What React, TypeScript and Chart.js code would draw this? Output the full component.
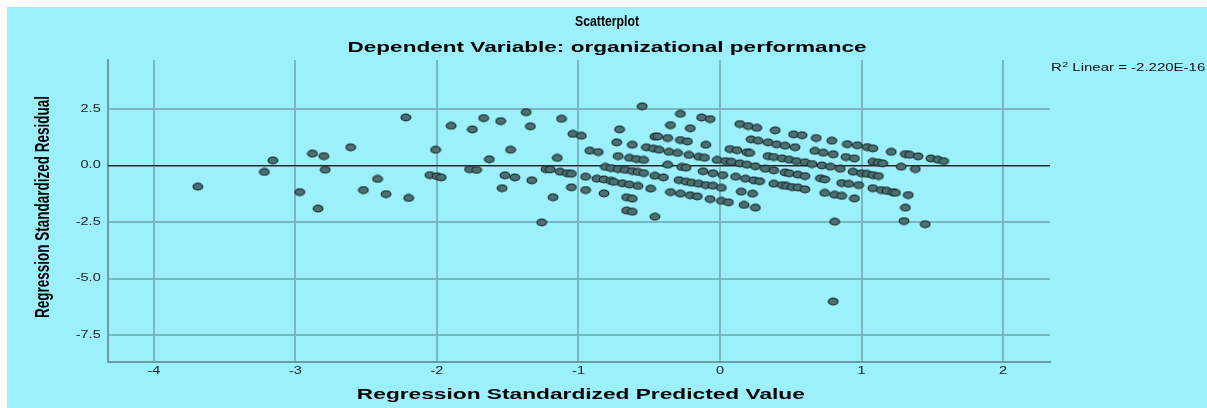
import React, { useEffect, useRef } from "react";
import { Chart, registerables } from "chart.js";
Chart.register(...registerables);

const predicted = [
  -3.69, -3.22, -3.16, -2.97, -2.88, -2.80, -2.79, -2.84, -2.61, -2.52, -2.42, -2.36, -2.22, -2.20, -2.01, -2.05, -2.00, -1.97, -1.90,
  -1.67, -1.75, -1.55, -1.37, -1.34, -1.12, -1.04, -0.98, -1.48, -1.63, -1.77, -1.72, -1.52, -1.45, -1.33, -1.54, -1.26, -1.15, -1.23, -1.20,
  -1.13, -1.08, -1.05, -1.18, -1.05, -0.95, -0.95, -0.82, -0.92, -0.86, -0.87, -0.82, -0.77, -0.71, -0.73, -0.62, -0.52, -0.47, -0.72, -0.64, -0.59, -0.54,
  -0.81, -0.77, -0.72, -0.67, -0.62, -0.58, -0.54,
  -0.69, -0.64, -0.58, -0.75,
  -0.66, -0.62, -0.66, -0.62, -0.55, -0.49, -0.46, -0.46,
  -0.28, -0.13, -0.07, -0.35, -0.21, -0.44, -0.37, -0.28, -0.23, -0.10, -0.43,
  -0.36, -0.30, -0.22, -0.15, -0.11, -0.02, 0.04,
  0.07, 0.12, 0.19, 0.21,
  0.14, 0.20, 0.26, 0.22, 0.27,
  0.08, 0.14, 0.19, 0.25,
  -0.37, -0.27, -0.24,
  -0.12, -0.05, 0.02, 0.11, 0.18, 0.24,
  -0.46, -0.40,
  -0.29, -0.24, -0.20, -0.15, -0.10, -0.05, 0.01,
  0.15, 0.23,
  -0.35, -0.28, -0.21, -0.16, -0.07, 0.01, 0.06, 0.17, 0.25,
  0.39, 0.52, 0.58, 0.68, 0.79, 0.90, 0.97,
  0.34, 0.40, 0.46, 0.53,
  0.67, 0.73, 0.80, 0.89, 0.95,
  0.34, 0.38, 0.44, 0.49, 0.54, 0.60,
  0.65, 0.72, 0.78, 0.85,
  0.32, 0.38, 0.46, 0.49, 0.55, 0.60, 0.71, 0.74,
  0.94, 1.00,
  0.28, 0.38, 0.44, 0.47, 0.51, 0.55, 0.60, 0.86, 0.91, 0.98,
  0.74, 0.81, 0.86, 0.95, 0.81,
  1.04, 1.08, 1.21, 1.31, 1.34, 1.40, 1.49, 1.54, 1.58,
  1.08, 1.12, 1.15, 1.28, 1.38,
  1.04, 1.08, 1.12,
  1.08, 1.14, 1.18, 1.22, 1.24, 1.33, 1.31, 1.30, 1.45, 0.80
];

const residual = [
  -0.93, -0.28, 0.23, -1.17, 0.53, 0.42, -0.18, -1.90, 0.81, -1.08, -0.59, -1.26, 2.13, -1.43, 0.70, -0.42, -0.47, -0.52, 1.76,
  2.10, 1.60, 1.97, 2.36, 1.74, 2.07, 1.40, 1.32, 0.70, 0.28, -0.16, -0.19, -0.43, -0.52, -0.65, -1.00, -2.51, 0.34, -0.16, -0.17,
  -0.27, -0.34, -0.36, -1.40, -0.96, -1.08, -0.49, -1.23, 0.66, 0.60, -0.58, -0.61, -0.68, 1.60, 1.03, 0.92, 0.81, 0.75, 0.42, 0.34, 0.29, 0.25,
  -0.06, -0.11, -0.15, -0.19, -0.24, -0.28, -0.33,
  -0.78, -0.84, -0.90, -0.72,
  -1.40, -1.46, -1.99, -2.04, 2.62, -1.02, 1.28, -2.26,
  2.29, 2.13, 2.06, 1.79, 1.65, 1.29, 1.22, 1.13, 1.07, 0.92, 0.70,
  0.61, 0.56, 0.47, 0.39, 0.35, 0.25, 0.20,
  0.73, 0.68, 0.59, 0.56,
  1.84, 1.75, 1.67, 1.16, 1.10,
  0.17, 0.10, 0.04, -0.03,
  0.04, -0.06, -0.09,
  -0.25, -0.34, -0.42, -0.49, -0.58, -0.65,
  -0.45, -0.52,
  -0.64, -0.71, -0.76, -0.80, -0.86, -0.89, -0.98,
  -1.15, -1.24,
  -1.17, -1.24, -1.31, -1.36, -1.48, -1.56, -1.62, -1.74, -1.86,
  1.56, 1.38, 1.34, 1.22, 1.10, 0.95, 0.90,
  1.03, 0.94, 0.88, 0.81,
  0.65, 0.57, 0.50, 0.38, 0.32,
  0.42, 0.38, 0.32, 0.26, 0.20, 0.15,
  0.07, 0.01, -0.05, -0.14,
  -0.14, -0.21, -0.30, -0.34, -0.40, -0.46, -0.56, -0.61,
  -0.27, -0.34,
  -0.69, -0.80, -0.86, -0.90, -0.95, -0.97, -1.05, -0.77, -0.81, -0.86,
  -1.21, -1.29, -1.34, -1.45, -2.48,
  0.82, 0.76, 0.61, 0.51, 0.48, 0.41, 0.32, 0.26, 0.20,
  0.17, 0.13, 0.10, -0.05, -0.15,
  -0.37, -0.42, -0.46,
  -1.00, -1.08, -1.12, -1.18, -1.20, -1.30, -1.86, -2.45, -2.59, -6.01
];

const xTicks = [-4, -3, -2, -1, 0, 1, 2];
const yTicks = [2.5, 0, -2.5, -5, -7.5];
const xMin = -4.327;
const xMax = 2.332;
const yMin = -8.67;
const yMax = 4.67;

const titleText = "Scatterplot";
const subtitleText = "Dependent Variable: organizational performance";
const xLabel = "Regression Standardized Predicted Value";
const yLabel = "Regression Standardized Residual";
const r2Lead = "R";
const r2Sup = "2";
const r2Rest = " Linear = -2.220E-16";

const BG = "#9BF0FB";
const GRID = "#7AB8C1";
const AXIS = "#6A9CA4";
const FAMILY = '"Liberation Sans", Arial, sans-serif';
const STRETCH = 1.45;

export default function App() {
  const ref = useRef<HTMLCanvasElement | null>(null);

  useEffect(() => {
    const dot = document.createElement("canvas");
    dot.width = 12;
    dot.height = 9;
    const dctx = dot.getContext("2d")!;
    dctx.beginPath();
    dctx.ellipse(6, 4.5, 4.8, 3.3, 0, 0, Math.PI * 2);
    dctx.fillStyle = "#4B6F73";
    dctx.fill();
    dctx.lineWidth = 1.3;
    dctx.strokeStyle = "#1E3032";
    dctx.stroke();

    const text = (
      ctx: CanvasRenderingContext2D,
      s: string,
      x: number,
      y: number,
      font: string,
      sx: number,
      align: CanvasTextAlign,
      color: string
    ) => {
      ctx.save();
      ctx.font = font;
      ctx.fillStyle = color;
      ctx.textAlign = align;
      ctx.textBaseline = "middle";
      ctx.translate(x, y);
      ctx.scale(sx, 1);
      ctx.fillText(s, 0, 0);
      ctx.restore();
    };

    const fitScale = (ctx: CanvasRenderingContext2D, s: string, font: string, target: number) => {
      ctx.save();
      ctx.font = font;
      const w = ctx.measureText(s).width;
      ctx.restore();
      return target / w;
    };

    const overlay = {
      id: "overlay",
      beforeDatasetsDraw(chart: any) {
        const { ctx, chartArea, scales } = chart;
        const y0 = scales.y.getPixelForValue(0);
        ctx.save();
        ctx.strokeStyle = "#1A2527";
        ctx.lineWidth = 1.2;
        ctx.beginPath();
        ctx.moveTo(chartArea.left, y0);
        ctx.lineTo(chartArea.right, y0);
        ctx.stroke();
        ctx.restore();
      },
      afterDraw(chart: any) {
        const { ctx, chartArea, scales } = chart;
        const tickFont = `10px ${FAMILY}`;
        scales.x.ticks.forEach((t: any) => {
          const px = scales.x.getPixelForValue(t.value);
          text(ctx, String(t.value), px, chartArea.bottom + 10, tickFont, STRETCH, "center", "#222");
        });
        scales.y.ticks.forEach((t: any) => {
          const py = scales.y.getPixelForValue(t.value);
          text(ctx, Number(t.value).toFixed(1), chartArea.left - 7, py, tickFont, STRETCH, "right", "#222");
        });

        const tFont = `bold 15px ${FAMILY}`;
        text(ctx, titleText, 600, 15, tFont, fitScale(ctx, titleText, tFont, 64), "center", "#000");
        const sFont = `bold 15px ${FAMILY}`;
        text(ctx, subtitleText, 600, 41, sFont, fitScale(ctx, subtitleText, sFont, 519), "center", "#000");

        const xFont = `bold 14px ${FAMILY}`;
        text(ctx, xLabel, (chartArea.left + chartArea.right) / 2 + 2, 388, xFont, fitScale(ctx, xLabel, xFont, 448), "center", "#000");

        const yFont = `bold 14px ${FAMILY}`;
        const along = fitScale(ctx, yLabel, yFont, 222);
        ctx.save();
        ctx.font = yFont;
        ctx.fillStyle = "#000";
        ctx.textAlign = "center";
        ctx.textBaseline = "middle";
        ctx.translate(36, 200);
        ctx.rotate(-Math.PI / 2);
        ctx.scale(along, 1.5);
        ctx.fillText(yLabel, 0, 0);
        ctx.restore();

        const rFont = `10px ${FAMILY}`;
        const supFont = `7px ${FAMILY}`;
        ctx.save();
        ctx.fillStyle = "#111";
        ctx.textBaseline = "alphabetic";
        ctx.textAlign = "left";
        ctx.translate(1044, 64);
        ctx.scale(1.5, 1);
        ctx.font = rFont;
        ctx.fillText(r2Lead, 0, 0);
        let w = ctx.measureText(r2Lead).width;
        ctx.font = supFont;
        ctx.fillText(r2Sup, w + 0.3, -4);
        w += ctx.measureText(r2Sup).width + 0.3;
        ctx.font = rFont;
        ctx.fillText(r2Rest, w, 0);
        ctx.restore();
      },
    };

    const chart = new Chart(ref.current!, {
      type: "scatter",
      data: {
        datasets: [
          {
            data: predicted.map((x, i) => ({ x, y: residual[i] })),
            pointStyle: dot as any,
            pointRadius: 5,
            pointHoverRadius: 5,
          },
        ],
      },
      options: {
        animation: false,
        responsive: false,
        maintainAspectRatio: false,
        layout: { padding: { top: 53, right: 157, left: 0, bottom: 0 } },
        plugins: {
          legend: { display: false },
          tooltip: { enabled: false },
          title: { display: false },
        },
        scales: {
          x: {
            type: "linear",
            min: xMin,
            max: xMax,
            afterBuildTicks: (s: any) => {
              s.ticks = xTicks.map((v) => ({ value: v }));
            },
            afterFit: (s: any) => {
              s.height = 46.3;
            },
            grid: { color: GRID, lineWidth: 2, drawTicks: false },
            border: { color: AXIS, width: 2 },
            ticks: { display: false },
          },
          y: {
            type: "linear",
            min: yMin,
            max: yMax,
            afterBuildTicks: (s: any) => {
              s.ticks = yTicks.map((v) => ({ value: v }));
            },
            afterFit: (s: any) => {
              s.width = 100.7;
            },
            grid: { color: GRID, lineWidth: 2, drawTicks: false },
            border: { color: AXIS, width: 2 },
            ticks: { display: false },
          },
        },
      },
      plugins: [overlay],
    } as any);

    return () => chart.destroy();
  }, []);

  return (
    <div
      style={{
        position: "absolute",
        left: 7,
        top: 7,
        width: 1200,
        height: 401,
        background: BG,
      }}
    >
      <canvas ref={ref} width={1200} height={401} style={{ display: "block" }} />
    </div>
  );
}
